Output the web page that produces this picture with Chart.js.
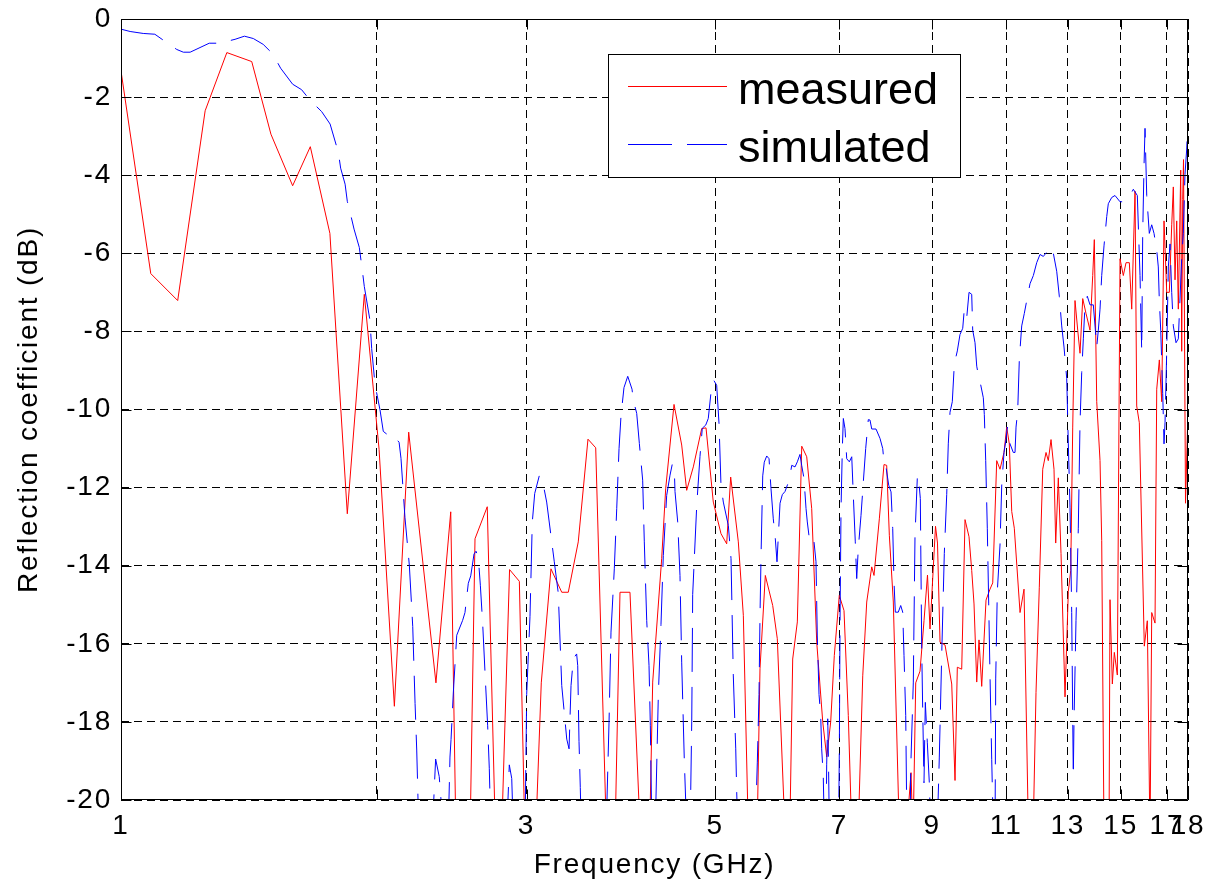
<!DOCTYPE html>
<html>
<head>
<meta charset="utf-8">
<script src="https://cdn.jsdelivr.net/npm/chart.js@4.4.1/dist/chart.umd.min.js"></script>
<style>
  html, body { margin: 0; padding: 0; background: #fff; }
  canvas { display: block; }
</style>
</head>
<body>
<canvas id="chart" width="1209" height="884"></canvas>
<script>
// frequency in GHz, reflection coefficient in dB
// values below -20 dB only mark where the trace leaves the plot
const measuredFreq = [
  1.000, 1.084, 1.166, 1.256, 1.332, 1.425, 1.501, 1.592, 1.670, 1.761,
  1.846, 1.933, 2.012, 2.097, 2.180, 2.347, 2.443, 2.478, 2.574, 2.609,
  2.697, 2.758, 2.803, 2.865, 2.942, 2.987, 3.074, 3.122, 3.205, 3.300,
  3.359, 3.451, 3.543, 3.618, 3.726, 3.812, 3.864, 3.970, 4.085, 4.186,
  4.222, 4.326, 4.373, 4.473, 4.567, 4.629, 4.713, 4.821, 4.878, 4.975,
  5.080, 5.159, 5.215, 5.324, 5.397, 5.473, 5.601, 5.646, 5.728, 5.844,
  5.917, 6.047, 6.119, 6.169, 6.247, 6.322, 6.408, 6.495, 6.584, 6.692,
  6.765, 6.838, 6.905, 6.999, 7.089, 7.172, 7.244, 7.363, 7.458, 7.539,
  7.642, 7.689, 7.801, 7.900, 7.958, 8.015, 8.102, 8.239, 8.386, 8.500,
  8.546, 8.609, 8.710, 8.805, 8.888, 8.949, 9.083, 9.132, 9.195, 9.320,
  9.491, 9.576, 9.636, 9.751, 9.839, 9.946, 10.019, 10.082, 10.156, 10.219,
  10.294, 10.415, 10.528, 10.606, 10.721, 10.817, 10.935, 11.015, 11.093, 11.166,
  11.244, 11.420, 11.544, 11.686, 11.829, 11.925, 12.032, 12.144, 12.253, 12.329,
  12.420, 12.521, 12.579, 12.668, 12.761, 12.900, 13.016, 13.101, 13.172, 13.254,
  13.352, 13.435, 13.534, 13.655, 13.804, 13.905, 13.966, 14.057, 14.183, 14.248,
  14.338, 14.533, 14.572, 14.664, 14.743, 14.864, 14.973, 15.107, 15.218, 15.355,
  15.455, 15.594, 15.665, 15.776, 15.991, 16.122, 16.240, 16.315, 16.462, 16.538,
  16.655, 16.763, 16.868, 16.992, 17.112, 17.224, 17.298, 17.378, 17.458, 17.534,
  17.649, 17.696, 17.744, 17.783, 17.879, 18.000
]
const measuredDb = [
  -1.33, -6.52, -7.21, -2.35, -0.86, -1.09, -2.95, -4.27, -3.27, -5.49,
  -12.67, -7.05, -11.02, -17.6, -10.58, -17.0, -12.62, -21, -21, -13.31,
  -12.49, -21, -21, -14.1, -14.4, -21, -21, -17.0, -14.08, -14.68,
  -14.68, -13.39, -10.76, -10.98, -21, -21, -14.68, -14.68, -21, -21,
  -16.98, -13.82, -12.03, -9.87, -10.91, -12.07, -11.47, -10.49, -10.47, -12.37,
  -13.18, -13.44, -11.73, -13.39, -15.27, -21, -21, -16.64, -14.25, -15.02,
  -15.87, -21, -21, -16.39, -15.44, -10.94, -11.21, -12.54, -15.96, -18.0,
  -18.9, -18.0, -16.3, -14.76, -15.15, -17.84, -21, -21, -16.82, -14.93,
  -14.03, -14.25, -12.8, -11.41, -11.43, -13.22, -14.93, -21, -21, -19.3,
  -21, -17.0, -16.7, -15.4, -14.24, -15.62, -12.99, -13.42, -15.96, -16.03,
  -17.03, -19.5, -16.6, -16.65, -12.82, -13.26, -14.12, -14.98, -16.98, -15.9,
  -17.09, -14.88, -14.6, -14.44, -11.31, -11.53, -11.1, -10.45, -10.88, -12.61,
  -13.04, -15.2, -14.6, -21, -21, -17.25, -14.55, -11.53, -11.1, -11.31,
  -10.77, -11.53, -13.42, -11.75, -13.69, -17.36, -14.66, -14.12, -10.45, -7.21,
  -7.97, -8.56, -7.16, -7.54, -7.97, -6.57, -5.65, -9.8, -11.31, -13.36,
  -21, -21, -14.87, -17.03, -16.22, -16.8, -6.14, -6.57, -6.24, -6.24,
  -7.43, -4.41, -9.91, -10.34, -16.06, -15.41, -21, -15.2, -15.47, -9.48,
  -8.73, -9.8, -5.17, -7.0, -7.0, -5.27, -4.3, -6.68, -5.17, -7.43,
  -3.87, -8.51, -4.62, -3.6, -12.4, -10.0
]

const simulatedFreq = [
  1.000, 1.025, 1.062, 1.096, 1.121, 1.163, 1.184, 1.206, 1.270, 1.305,
  1.362, 1.397, 1.431, 1.470, 1.508, 1.541, 1.592, 1.631, 1.669, 1.722,
  1.762, 1.802, 1.813, 1.835, 1.846, 1.860, 1.880, 1.907, 1.923, 1.933,
  1.963, 1.972, 1.990, 2.002, 2.017, 2.035, 2.057, 2.082, 2.124, 2.135,
  2.158, 2.184, 2.204, 2.218, 2.228, 2.242, 2.322, 2.345, 2.368, 2.399,
  2.425, 2.438, 2.445, 2.460, 2.483, 2.523, 2.539, 2.562, 2.579, 2.602,
  2.616, 2.632, 2.647, 2.664, 2.683, 2.700, 2.712, 2.725, 2.841, 2.863,
  2.882, 2.896, 2.987, 3.001, 3.028, 3.047, 3.067, 3.105, 3.131, 3.168,
  3.234, 3.269, 3.300, 3.345, 3.366, 3.384, 3.405, 3.436, 3.446, 3.458,
  3.470, 3.481, 3.720, 3.751, 3.771, 3.805, 3.830, 3.854, 3.875, 3.906,
  3.946, 3.992, 4.006, 4.043, 4.072, 4.109, 4.127, 4.154, 4.180, 4.195,
  4.214, 4.249, 4.287, 4.318, 4.345, 4.385, 4.425, 4.452, 4.477, 4.485,
  4.518, 4.546, 4.567, 4.599, 4.633, 4.671, 4.693, 4.705, 4.757, 4.799,
  4.829, 4.874, 4.908, 4.945, 4.981, 5.021, 5.053, 5.080, 5.112, 5.182,
  5.220, 5.252, 5.287, 5.301, 5.320, 5.570, 5.605, 5.631, 5.646, 5.662,
  5.688, 5.712, 5.750, 5.786, 5.817, 5.853, 5.885, 5.912, 5.940, 5.961,
  5.998, 6.042, 6.113, 6.153, 6.208, 6.247, 6.292, 6.321, 6.361, 6.396,
  6.418, 6.453, 6.495, 6.536, 6.571, 6.594, 6.625, 6.655, 6.673, 6.702,
  6.724, 6.752, 6.764, 6.783, 6.797, 6.816, 6.984, 7.000, 7.013, 7.032,
  7.057, 7.076, 7.108, 7.141, 7.192, 7.239, 7.270, 7.309, 7.337, 7.369,
  7.423, 7.470, 7.518, 7.571, 7.606, 7.642, 7.731, 7.815, 7.873, 7.907,
  7.943, 8.002, 8.052, 8.089, 8.117, 8.146, 8.212, 8.266, 8.311, 8.340,
  8.379, 8.408, 8.477, 8.493, 8.553, 8.592, 8.646, 8.670, 8.717, 8.750,
  8.773, 8.804, 8.836, 8.883, 8.932, 8.973, 9.120, 9.177, 9.237, 9.302,
  9.363, 9.403, 9.447, 9.506, 9.558, 9.636, 9.706, 9.778, 9.820, 9.884,
  9.946, 10.019, 10.046, 10.109, 10.156, 10.219, 10.266, 10.339, 10.367, 10.406,
  10.451, 10.491, 10.528, 10.577, 10.628, 10.672, 10.692, 10.738, 10.817, 10.867,
  10.935, 10.995, 11.033, 11.114, 11.214, 11.266, 11.297, 11.349, 11.398, 11.472,
  11.553, 11.629, 11.733, 11.839, 11.948, 12.055, 12.164, 12.276, 12.363, 12.498,
  12.613, 12.702, 12.785, 12.865, 12.960, 13.016, 13.076, 13.136, 13.172, 13.193,
  13.218, 13.290, 13.373, 13.435, 13.497, 13.556, 13.618, 13.703, 13.804, 13.928,
  14.057, 14.118, 14.183, 14.248, 14.337, 14.443, 14.505, 14.640, 14.771, 14.972,
  15.107, 15.247, 15.384, 15.522, 15.691, 15.806, 15.879, 15.922, 15.978, 16.022,
  16.096, 16.209, 16.315, 16.417, 16.538, 16.609, 16.654, 16.718, 16.809, 16.868,
  16.914, 16.992, 17.066, 17.144, 17.223, 17.298, 17.425, 17.534, 17.695, 17.772,
  17.854, 17.937, 18.000
]
const simulatedDb = [
  -0.26, -0.32, -0.37, -0.39, -0.54, -0.78, -0.85, -0.85, -0.62, -0.62,
  -0.52, -0.44, -0.50, -0.65, -0.89, -1.26, -1.67, -1.81, -2.08, -2.37,
  -2.69, -3.42, -3.82, -4.23, -4.67, -4.95, -5.38, -5.85, -6.45, -6.85,
  -7.72, -8.44, -9.37, -9.65, -10.01, -10.56, -10.64, -10.61, -10.84, -11.25,
  -12.76, -14.0, -15.56, -17.53, -18.72, -21, -21, -18.95, -19.4, -21,
  -21, -18.9, -18.45, -17.26, -15.78, -15.4, -15.2, -14.45, -14.26, -13.7,
  -13.63, -13.77, -14.5, -15.5, -16.9, -18.1, -19.2, -21, -21, -19.1,
  -19.45, -21, -21, -17.3, -15.3, -12.88, -12.15, -11.7, -11.8, -12.37,
  -13.9, -14.7, -17.07, -18.44, -18.69, -17.07, -16.38, -16.26, -16.56, -18.5,
  -19.68, -21, -21, -18.0, -15.7, -14.08, -12.54, -11.0, -10.15, -9.44,
  -9.15, -9.48, -9.76, -10.1, -10.87, -11.81, -13.39, -15.4, -16.55, -18.1,
  -21, -21, -17.3, -15.5, -13.74, -12.2, -11.68, -11.4, -11.56, -12.1,
  -12.88, -14.25, -16.47, -18.95, -21, -21, -18.0, -14.74, -12.45, -11.2,
  -10.48, -10.4, -10.23, -9.55, -9.25, -9.38, -10.36, -11.94, -12.37, -12.97,
  -13.82, -16.8, -18.69, -19.8, -21, -21, -19.05, -17.3, -15.3, -13.75,
  -11.7, -11.35, -11.19, -11.26, -12.03, -12.8, -13.3, -13.9, -13.05, -12.4,
  -12.18, -12.1, -11.8, -11.43, -11.47, -11.34, -11.15, -11.43, -11.77, -12.54,
  -12.88, -13.3, -13.48, -13.39, -13.9, -15.8, -17.3, -17.84, -18.69, -19.4,
  -21, -21, -19.1, -17.92, -19.0, -21, -21, -18.7, -15.44, -12.54,
  -11.0, -10.23, -10.49, -11.26, -11.34, -11.21, -12.2, -13.39, -14.33, -13.56,
  -12.71, -11.85, -11.0, -10.26, -10.27, -10.5, -10.5, -10.74, -11.0, -11.43,
  -11.47, -11.94, -12.11, -13.05, -14.41, -15.19, -15.19, -15.02, -15.19, -16.3,
  -17.84, -21, -21, -19.2, -16.98, -13.26, -11.75, -11.68, -12.28, -16.13,
  -17.67, -19.56, -17.5, -18.52, -19.56, -21, -21, -18.9, -16.28, -13.69,
  -12.18, -10.88, -10.07, -9.8, -8.83, -8.5, -8.08, -7.92, -7.43, -7.65,
  -7.0, -7.05, -7.97, -8.29, -8.89, -9.21, -9.37, -9.7, -10.13, -11.31,
  -13.04, -14.98, -16.82, -18.97, -21, -21, -16.9, -14.66, -13.47, -11.96,
  -11.1, -10.77, -10.45, -10.88, -11.1, -11.1, -10.45, -10.02, -8.72, -7.86,
  -7.54, -7.21, -6.78, -6.57, -6.24, -6.03, -6.08, -5.97, -6.14, -6.0,
  -6.46, -7.1, -7.86, -8.4, -9.21, -10.88, -12.5, -15.2, -17.9, -19.4,
  -18.0, -15.4, -13.04, -10.34, -9.05, -8.19, -7.32, -7.1, -7.32, -7.32,
  -8.4, -7.97, -7.43, -6.57, -5.81, -5.06, -4.73, -4.57, -4.52, -4.68,
  -4.68, -4.57, -4.52, -4.36, -4.52, -6.57, -8.51, -5.49, -3.76, -2.8,
  -4.52, -5.49, -5.27, -5.49, -5.92, -6.35, -7.2, -7.97, -9.59, -10.88,
  -10.34, -8.51, -6.35, -5.76, -7.0, -7.86, -8.29, -8.19, -6.14, -5.49,
  -3.98, -3.33, -2.5
]

const xTicks = [1, 2, 3, 5, 7, 9, 11, 13, 15, 17, 18]
const xTickLabels = ['1', '', '3', '5', '7', '9', '11', '13', '15', '17', '18']
const yMin = -20
const yMax = 0
const yStep = 2

const FONT = '"Liberation Sans", Arial, Helvetica, sans-serif'

const toPoints = (xs, ys) => xs.map((x, i) => ({ x: x, y: ys[i] }))

// axis text is set a little loose, legend text is not
const tracking = {
    id: 'tracking',
    beforeDraw(chart) { chart.ctx.letterSpacing = '1.8px' },
    beforeDatasetsDraw(chart) { chart.ctx.letterSpacing = '0px' },
}

// axes box with short inward ticks on all four sides
const axisBox = {
    id: 'axisBox',
    afterDatasetsDraw(chart) {
        const { ctx, chartArea: a, scales } = chart
        const tl = 10
        const L = Math.round(a.left) + 0.5, R = Math.round(a.right) - 0.5
        const T = Math.round(a.top) + 0.5, B = Math.round(a.bottom) - 0.5
        ctx.save()
        ctx.setLineDash([])
        ctx.strokeStyle = '#000'
        ctx.lineWidth = 1
        ctx.beginPath()
        scales.x.ticks.forEach(t => {
            const px = Math.round(scales.x.getPixelForValue(t.value)) + 0.5
            ctx.moveTo(px, B); ctx.lineTo(px, B - tl)
            ctx.moveTo(px, T); ctx.lineTo(px, T + tl)
        })
        scales.y.ticks.forEach(t => {
            const py = Math.round(scales.y.getPixelForValue(t.value)) + 0.5
            ctx.moveTo(L, py); ctx.lineTo(L + tl, py)
            ctx.moveTo(R, py); ctx.lineTo(R - tl, py)
        })
        ctx.rect(L, T, R - L, B - T)
        ctx.stroke()
        ctx.restore()
    }
}

// boxed legend inside the plot, upper right
const boxLegend = {
    id: 'boxLegend',
    afterDraw(chart) {
        const { ctx, chartArea: a } = chart
        const left = Math.round(a.left) + 487, top = Math.round(a.top) + 35
        const w = 352, h = 123
        ctx.save()
        ctx.letterSpacing = '0px'
        ctx.fillStyle = '#fff'
        ctx.fillRect(left, top, w, h)
        ctx.strokeStyle = '#000'
        ctx.lineWidth = 1
        ctx.setLineDash([])
        ctx.strokeRect(left + 0.5, top + 0.5, w, h)
        ctx.font = '45px ' + FONT
        ctx.textBaseline = 'alphabetic'
        ctx.textAlign = 'left'
        chart.data.datasets.forEach((ds, i) => {
            const y = top + 32 + i * 58
            ctx.strokeStyle = ds.borderColor
            ctx.lineWidth = ds.borderWidth
            ctx.setLineDash(ds.borderDash || [])
            ctx.beginPath()
            ctx.moveTo(left + 20, y + 0.5)
            ctx.lineTo(left + 119, y + 0.5)
            ctx.stroke()
            ctx.fillStyle = '#000'
            ctx.fillText(ds.label, left + 130, y + 18)
        })
        ctx.restore()
    }
}

const ctx = document.getElementById('chart')

new Chart(ctx, {
    type: 'line',
    data: {
        datasets: [
            {
                label: 'measured',
                data: toPoints(measuredFreq, measuredDb),
                borderColor: '#ff0000',
                borderWidth: 1,
                pointRadius: 0,
                tension: 0,
                order: 1,
            },
            {
                label: 'simulated',
                data: toPoints(simulatedFreq, simulatedDb),
                borderColor: '#0000ff',
                borderWidth: 1,
                borderDash: [44, 15],
                pointRadius: 0,
                tension: 0,
                order: 0,
            },
        ],
    },
    options: {
        responsive: false,
        animation: false,
        devicePixelRatio: 1,
        layout: {
            padding: { top: 19, right: 21, bottom: 0, left: 0 },
        },
        plugins: {
            legend: { display: false },
            tooltip: { enabled: false },
        },
        scales: {
            x: {
                type: 'logarithmic',
                min: 1,
                max: 18,
                afterBuildTicks: (scale) => {
                    scale.ticks = xTicks.map(v => ({ value: v }))
                },
                afterFit: (scale) => {
                    scale.height = 84
                    scale.paddingLeft = 0
                    scale.paddingRight = 0
                },
                ticks: {
                    autoSkip: false,
                    maxRotation: 0,
                    padding: 9,
                    color: '#000',
                    font: { family: FONT, size: 28 },
                    callback: (value, i) => xTickLabels[i],
                },
                grid: { color: '#000', lineWidth: 1, drawTicks: false },
                border: { display: false, dash: [8, 5] },
                title: {
                    display: true,
                    text: 'Frequency (GHz)',
                    color: '#000',
                    font: { family: FONT, size: 28 },
                    padding: { top: 0, bottom: 2 },
                },
            },
            y: {
                min: yMin,
                max: yMax,
                afterFit: (scale) => {
                    scale.width = 121
                    scale.paddingTop = 0
                    scale.paddingBottom = 0
                },
                ticks: {
                    stepSize: yStep,
                    padding: 9,
                    color: '#000',
                    font: { family: FONT, size: 28 },
                },
                grid: { color: '#000', lineWidth: 1, drawTicks: false },
                border: { display: false, dash: [8, 5] },
                title: {
                    display: true,
                    text: 'Reflection coefficient (dB)',
                    color: '#000',
                    font: { family: FONT, size: 28 },
                    padding: { top: 12, bottom: 0 },
                },
            },
        },
    },
    plugins: [tracking, axisBox, boxLegend],
})
</script>
</body>
</html>
